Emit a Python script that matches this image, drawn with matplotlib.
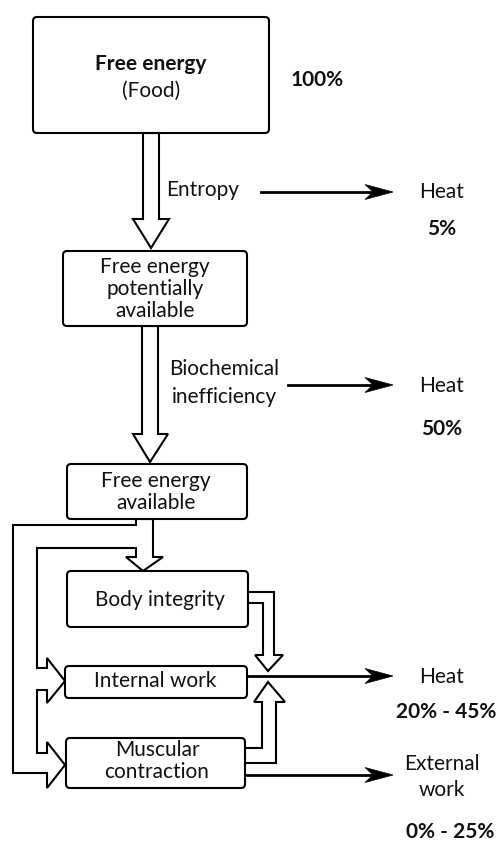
import matplotlib
matplotlib.use("Agg")
import matplotlib.pyplot as plt
from matplotlib.patches import FancyBboxPatch, Polygon

plt.rcParams['font.family'] = ['Lato', 'DejaVu Sans']

# labels of the diagram
box_labels = ["Free energy\npotentially\navailable",
              "Free energy\navailable",
              "Body integrity",
              "Internal work",
              "Muscular\ncontraction"]
loss_labels = ["Entropy", "Biochemical\ninefficiency"]
out_labels = ["Heat", "Heat", "Heat", "External\nwork"]
out_shares = ["5%", "50%", "20% - 45%", "0% - 25%"]
total_share = "100%"

W, H = 498, 843
fig = plt.figure(figsize=(W / 100, H / 100), dpi=100)
ax = fig.add_axes([0, 0, 1, 1])
ax.set_xlim(0, W)
ax.set_ylim(H, 0)
ax.axis("off")

LW = 1.5
FS = 15
TXT = "#111111"


def box(x0, y0, x1, y1):
    p = FancyBboxPatch((x0, y0), x1 - x0, y1 - y0,
                       boxstyle="round,pad=0,rounding_size=4",
                       fc="white", ec="black", lw=LW, zorder=3)
    ax.add_patch(p)


def hollow(pts):
    ax.add_patch(Polygon(pts, closed=True, fc="white", ec="black",
                         lw=LW, joinstyle="miter", zorder=2))


def thin_arrow(x0, x1, y):
    ax.plot([x0, x1 - 20], [y, y], color="black", lw=2, zorder=2)
    ax.add_patch(Polygon([(x1, y), (x1 - 28, y - 7.5), (x1 - 20, y),
                          (x1 - 28, y + 7.5)], closed=True,
                         fc="black", ec="black", lw=0.5, zorder=2))


# boxes
box(33, 17, 269, 133)
box(63, 251, 247, 326)
box(67, 464, 247, 519)
box(67, 571, 248, 627)
box(65, 666, 247, 698)
box(66, 738, 245, 788)

# first box text
ax.text(151, 64, "Free energy", ha="center", va="center", fontsize=FS,
        fontweight="bold", color=TXT)
ax.text(151, 91, "(Food)", ha="center", va="center", fontsize=FS, color=TXT)
ax.text(317, 80, total_share, ha="center", va="center", fontsize=FS,
        fontweight="bold", color=TXT)

ax.text(155, 289, box_labels[0], ha="center", va="center", fontsize=FS,
        color=TXT, linespacing=1.15, zorder=4)
ax.text(156, 492, box_labels[1], ha="center", va="center", fontsize=FS,
        color=TXT, linespacing=1.15, zorder=4)
ax.text(160, 600, box_labels[2], ha="center", va="center", fontsize=FS,
        color=TXT, zorder=4)
ax.text(155, 681, box_labels[3], ha="center", va="center", fontsize=FS,
        color=TXT, zorder=4)
ax.text(157, 761, box_labels[4], ha="center", va="center", fontsize=FS,
        color=TXT, linespacing=1.12, zorder=4)

# big hollow arrows going down
hollow([(143, 133), (143, 219), (133, 219), (151, 248), (169, 219),
        (159, 219), (159, 133)])
hollow([(142, 326), (142, 434), (133, 434), (150, 462), (168, 434),
        (158, 434), (158, 326)])

# branching channel below "Free energy available"
hollow([(136, 519), (136, 525), (13, 525), (13, 773), (47, 773),
        (47, 788), (65, 765), (47, 742), (47, 753), (37, 753), (37, 690),
        (47, 690), (47, 703), (65, 681), (47, 658), (47, 668), (37, 668),
        (37, 548), (136, 548), (136, 557), (126, 557), (143, 571),
        (163, 557), (153, 557), (153, 519)])

# side arrows into the heat junction
hollow([(248, 592), (274, 592), (274, 655), (283, 655), (268, 671),
        (255, 655), (263, 655), (263, 603), (248, 603)])
hollow([(245, 748), (262, 748), (262, 702), (254, 702), (268, 682),
        (285, 702), (276, 702), (276, 763), (245, 763)])

# losses
ax.text(203, 190, loss_labels[0], ha="center", va="center", fontsize=FS,
        color=TXT)
ax.text(224, 383, loss_labels[1], ha="center", va="center", fontsize=FS,
        color=TXT, linespacing=1.5)

thin_arrow(261, 393, 192)
thin_arrow(288, 393, 385)
thin_arrow(248, 393, 676)
thin_arrow(245, 393, 775)

out_y = [192, 386, 677, 777]
share_pos = [(442, 229), (442, 429), (446, 712), (450, 832)]
for lab, y in zip(out_labels, out_y):
    ax.text(442, y, lab, ha="center", va="center", fontsize=FS, color=TXT,
            linespacing=1.4)
for s, (x, y) in zip(out_shares, share_pos):
    ax.text(x, y, s, ha="center", va="center", fontsize=FS,
            fontweight="bold", color=TXT)

fig.savefig("out.png", dpi=100)
